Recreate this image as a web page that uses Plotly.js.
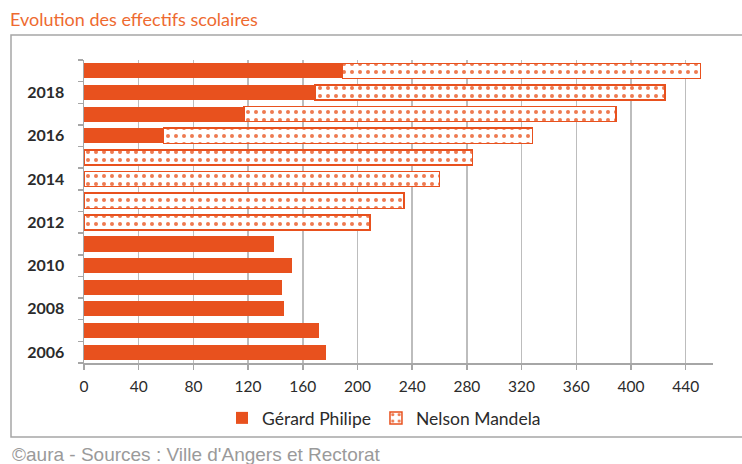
<!DOCTYPE html>
<html>
<head>
<meta charset="utf-8">
<script src="https://cdn.plot.ly/plotly-3.0.1.min.js"></script>
<style>
  html, body { margin: 0; padding: 0; background: #fff; }
  #chart { width: 742px; height: 464px; }
</style>
</head>
<body>
<div id="chart"></div>
<script>
// Data
const years = [2006, 2007, 2008, 2009, 2010, 2011, 2012, 2013, 2014, 2015, 2016, 2017, 2018, 2019];
const gerardPhilipe = [177, 172, 146, 145, 152, 139, 0, 0, 0, 0, 58, 117, 169, 189];
const nelsonMandela = [null, null, null, null, null, null, 209, 234, 260, 284, 270, 272, 256, 262];
const yearTickVals = [2006, 2008, 2010, 2012, 2014, 2016, 2018];
const yearTickText = ['2006', '2008', '2010', '2012', '2014', '2016', '2018'];
const xTickVals = [0, 40, 80, 120, 160, 200, 240, 280, 320, 360, 400, 440];

const orange = '#E8511E';
const fam = 'Lato, "Open Sans", sans-serif';

const traces = [
  {
    type: 'bar', orientation: 'h', name: 'Gérard Philipe',
    y: years, x: gerardPhilipe,
    marker: { color: orange, line: { width: 0 } },
    hoverinfo: 'skip'
  },
  {
    type: 'bar', orientation: 'h', name: 'Nelson Mandela',
    y: years, x: nelsonMandela,
    marker: {
      color: '#ffffff',
      line: { color: orange, width: 1.5 },
      pattern: { shape: '.', fgcolor: '#EE7A50', bgcolor: '#ffffff', size: 8, solidity: 0.2 }
    },
    hoverinfo: 'skip'
  }
];

const layout = {
  width: 742, height: 464,
  margin: { l: 84, r: 29, t: 60, b: 101 },
  paper_bgcolor: '#ffffff', plot_bgcolor: '#ffffff',
  barmode: 'stack', bargap: 0.3,
  showlegend: true,
  title: {
    text: 'Evolution des effectifs scolaires',
    font: { family: fam, size: 18, color: '#EE6A30' },
    xref: 'container', x: 10 / 742, xanchor: 'left',
    yref: 'container', y: 1 - 20 / 464, yanchor: 'middle'
  },
  xaxis: {
    range: [0, 460], tickvals: xTickVals,
    showgrid: true, gridcolor: '#BDBDBD', gridwidth: 1.5,
    showline: true, linecolor: '#A6A6A6', linewidth: 1.5,
    ticks: 'outside', ticklen: 5, tickcolor: '#A6A6A6', tickwidth: 1.5,
    ticklabelstandoff: 4,
    tickfont: { family: fam, size: 15.5, color: '#2b2b2b' },
    zeroline: false, fixedrange: true
  },
  yaxis: {
    range: [2005.5, 2019.5], tickvals: yearTickVals, ticktext: yearTickText,
    ticks: '', showgrid: false,
    showline: true, linecolor: '#A6A6A6', linewidth: 1.5,
    minor: { tick0: 2005.5, dtick: 1, ticks: 'outside', ticklen: 5, tickcolor: '#A6A6A6', tickwidth: 1.5, showgrid: false },
    ticklabelstandoff: 15,
    tickfont: { family: fam, size: 16, color: '#2b2b2b', weight: 'bold' },
    zeroline: false, fixedrange: true
  },
  legend: {
    orientation: 'h', traceorder: 'normal',
    x: (384 - 84) / 629, xanchor: 'center', y: (363 - 418) / 303, yanchor: 'middle',
    font: { family: fam, size: 17.5, color: '#2b2b2b' }, itemwidth: 30
  },
  shapes: [
    {
      type: 'rect', xref: 'paper', yref: 'paper',
      x0: (11 - 84) / 629, x1: (748 - 84) / 629,
      y0: (363 - 437) / 303, y1: (363 - 35) / 303,
      line: { color: '#A6A6A6', width: 1.5 }, fillcolor: 'rgba(0,0,0,0)', layer: 'below'
    }
  ],
  annotations: [
    {
      xref: 'paper', yref: 'paper',
      x: (10 - 84) / 629, y: (363 - 454) / 303,
      xanchor: 'left', yanchor: 'middle', showarrow: false,
      text: '©aura - Sources : Ville d\'Angers et Rectorat',
      font: { family: '"Liberation Sans", Arial, sans-serif', size: 19, color: '#9a9a9a' }
    }
  ]
};

Plotly.newPlot('chart', traces, layout, { staticPlot: true, displayModeBar: false });
</script>
</body>
</html>
